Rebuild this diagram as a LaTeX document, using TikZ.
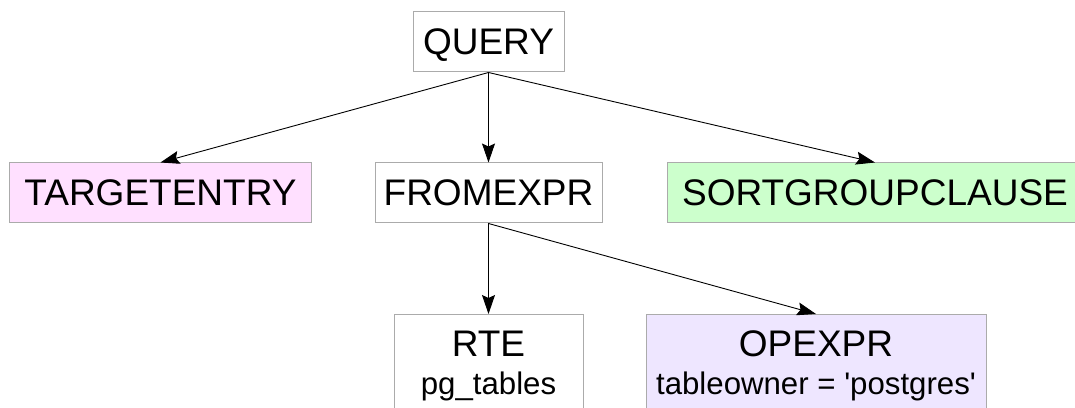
\documentclass[tikz,border=0pt]{standalone}
\usepackage{fontspec}
\setmainfont{Liberation Sans}
\usetikzlibrary{arrows.meta}
\definecolor{boxline}{HTML}{ABABAB}
\definecolor{pinkfill}{HTML}{FFE0FF}
\definecolor{greenfill}{HTML}{CCFFCC}
\definecolor{lavfill}{HTML}{EEE6FF}
\tikzset{
  box/.style={draw=boxline, line width=1pt, rectangle, inner sep=0pt,
    minimum height=60pt, text depth=0pt,
    font=\fontsize{37}{43}\selectfont},
  bigtxt/.style={inner sep=0pt, anchor=base, font=\fontsize{37}{43}\selectfont},
  smalltxt/.style={inner sep=0pt, anchor=base, font=\fontsize{31.2}{36}\selectfont},
  conn/.style={draw=black, line width=0.9pt,
    -{Stealth[length=19pt,width=13pt,inset=3pt]}}
}
\begin{document}
\begin{tikzpicture}[x=1pt,y=1pt]
\useasboundingbox (0,0) rectangle (1075,407);
\fill[white] (0,0) rectangle (1075,407);
\node[box, minimum width=151pt] (query) at (488.5,365) {QUERY};
\node[box, fill=pinkfill, minimum width=302pt] (te) at (160.5,214) {TARGETENTRY};
\node[box, fill=white, minimum width=227pt] (from) at (488.5,214) {FROMEXPR};
\node[box, fill=greenfill, minimum width=416pt] (sgc) at (875,214) {};
\node[bigtxt] (sgct) at (875,201) {SORTGROUPCLAUSE};
\node[box, anchor=north, minimum width=189pt, minimum height=130pt] (rte) at (488.5,93) {};
\node[bigtxt] (rtet) at (488.5,50.3) {RTE};
\node[smalltxt] (rtes) at (488.5,13) {pg\_tables};
\node[box, fill=lavfill, anchor=north, minimum width=340pt, minimum height=130pt] (op) at (816,93) {};
\node[bigtxt] (opt) at (816,50.3) {OPEXPR};
\node[smalltxt] (ops) at (816,13) {tableowner = \textquotesingle postgres\textquotesingle};
\draw[conn] (query.south) -- (te.north);
\draw[conn] (query.south) -- (from.north);
\draw[conn] (query.south) -- (sgc.north);
\draw[conn] (from.south) -- (rte.north);
\draw[conn] (from.south) -- (op.north);
\end{tikzpicture}
\end{document}
